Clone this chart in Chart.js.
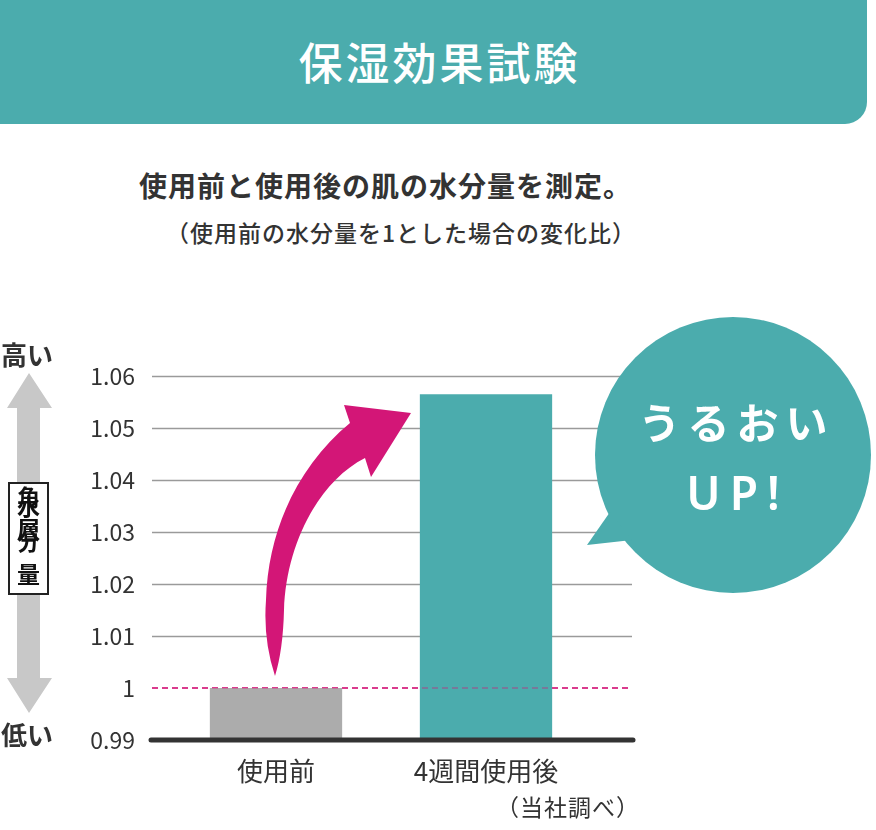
<!DOCTYPE html>
<html>
<head>
<meta charset="utf-8">
<script src="https://cdn.jsdelivr.net/npm/chart.js@4.4.1/dist/chart.umd.min.js"></script>
<style>
  html, body { margin: 0; padding: 0; background: #fff; }
  body { width: 876px; height: 830px; position: relative; overflow: hidden;
         font-family: "Noto Sans CJK JP", "Noto Sans", sans-serif; color: #333; }
  .abs { position: absolute; white-space: nowrap; line-height: 1; }
  #header { position: absolute; left: 0; top: 0; width: 867px; height: 124px;
            background: #4bacad; border-bottom-right-radius: 22px; }
  #title { left: 0; width: 876px; top: 39px; text-align: center; color: #fff;
           font-size: 44px; font-weight: 500; letter-spacing: 3px; padding-left: 3px; box-sizing: border-box; }
  #sub1 { left: 139px; top: 171px; font-size: 28px; font-weight: 700; letter-spacing: 1px; color: #333; }
  #sub2 { left: 166px; top: 221px; font-size: 23px; font-weight: 500; letter-spacing: 1px; color: #333; }
  #src { left: 496px; top: 795px; font-size: 23px; font-weight: 400; letter-spacing: 1px; color: #333; }
  .side { font-size: 26px; font-weight: 700; color: #333; left: 1px; }
  #lblbox { position: absolute; left: 8px; top: 482px; width: 37px; height: 109px;
            border: 2px solid #222; background: #fff; }
  .vch { position: absolute; left: 0; width: 37px; text-align: center; font-size: 23px;
         font-weight: 700; color: #111; line-height: 1; }
  #canvas { position: absolute; left: 0; top: 0; }
  #overlay { position: absolute; left: 0; top: 0; }
  .bub { color: #fff; font-weight: 600; text-align: center; left: 593px; width: 280px; }
</style>
</head>
<body>
<div id="header"></div>
<div id="title" class="abs">保湿効果試験</div>
<div id="sub1" class="abs">使用前と使用後の肌の水分量を測定。</div>
<div id="sub2" class="abs">（使用前の水分量を1とした場合の変化比）</div>

<canvas id="canvas" width="876" height="830"></canvas>

<svg id="overlay" width="876" height="830" viewBox="0 0 876 830">
  <!-- gray double arrow -->
  <polygon points="29,373 52,408 40,408 40,678 52,678 29,713 7,678 17,678 17,408 7,408" fill="#c8c8c8"/>
  <!-- magenta curved arrow -->
  <path d="M 275 676 Q 263 640 266 600 C 268 530 298 466 350 423 L 344 405 L 411 413 L 371 477 L 365 458 C 318 482 286 545 284 610 Q 283 650 275 676 Z" fill="#d31677"/>
  <!-- speech bubble -->
  <circle cx="733" cy="455" r="138" fill="#4bacad"/>
  <polygon points="587,545 610,512 632,540" fill="#4bacad"/>
</svg>

<div id="lblbox">
  <div class="vch" style="top:1px">角</div>
  <div class="vch" style="top:10px">水</div>
  <div class="vch" style="top:33px">層</div>
  <div class="vch" style="top:45px">分</div>
  <div class="vch" style="top:78px">量</div>
</div>
<div class="abs side" style="top:341px">高い</div>
<div class="abs side" style="top:721px">低い</div>

<div class="abs bub" style="top:400px; font-size:42px; letter-spacing:7px; padding-left:7px; box-sizing:border-box;">うるおい</div>
<div class="abs bub" style="top:469px; font-size:46px; letter-spacing:9px; padding-left:9px; box-sizing:border-box; font-family:'Noto Sans','Noto Sans CJK JP',sans-serif;">UP!</div>

<div id="src" class="abs">（当社調べ）</div>

<script>
// ---- data ----
const categories = ['使用前', '4週間使用後'];
const ratioValues = [1.00, 1.0565];
const barColors = ['#acacac', '#4bacad'];
const yMin = 0.99;
const yMax = 1.06;
const yStep = 0.01;
const baselineValue = 1.00;

const decorPlugin = {
  id: 'decor',
  beforeDatasetsDraw(chart) {
    const { ctx, chartArea, scales } = chart;
    const y = scales.y;
    const x0 = chartArea.left - 19, x1 = chartArea.right + 41;
    ctx.save();
    ctx.strokeStyle = '#9a9a9a';
    ctx.lineWidth = 1.6;
    y.ticks.forEach(t => {
      if (t.value > baselineValue + 1e-9) {
        const py = Math.round(y.getPixelForValue(t.value)) + 0.5;
        ctx.beginPath(); ctx.moveTo(x0, py); ctx.lineTo(x1, py); ctx.stroke();
      }
    });
    const by = y.getPixelForValue(baselineValue);
    ctx.strokeStyle = '#d31677';
    ctx.lineWidth = 1.6;
    ctx.setLineDash([6, 4]);
    ctx.beginPath(); ctx.moveTo(x0, by); ctx.lineTo(x1, by); ctx.stroke();
    ctx.restore();
  },
  afterDatasetsDraw(chart) {
    const { ctx, chartArea, scales } = chart;
    const y = scales.y;
    const x0 = chartArea.left - 19, x1 = chartArea.right + 41;
    ctx.save();
    const by = y.getPixelForValue(baselineValue);
    ctx.strokeStyle = 'rgba(211,22,119,0.45)';
    ctx.lineWidth = 1.6;
    ctx.setLineDash([6, 4]);
    ctx.beginPath(); ctx.moveTo(x0, by); ctx.lineTo(x1, by); ctx.stroke();
    ctx.setLineDash([]);
    const ay = y.getPixelForValue(yMin);
    ctx.strokeStyle = '#333333';
    ctx.lineWidth = 5;
    ctx.lineCap = 'round';
    ctx.beginPath(); ctx.moveTo(x0 - 1, ay); ctx.lineTo(x1 + 1, ay); ctx.stroke();
    ctx.restore();
  }
};

new Chart(document.getElementById('canvas'), {
  type: 'bar',
  data: {
    labels: categories,
    datasets: [{
      data: ratioValues,
      backgroundColor: barColors,
      borderWidth: 0,
      barPercentage: 0.63,
      categoryPercentage: 1.0
    }]
  },
  options: {
    responsive: false,
    animation: false,
    devicePixelRatio: 1,
    layout: { padding: { top: 376, right: 285, left: 0, bottom: 0 } },
    plugins: { legend: { display: false }, tooltip: { enabled: false } },
    scales: {
      x: {
        grid: { display: false, drawTicks: false },
        border: { display: false },
        ticks: { color: '#333', font: { family: '"Noto Sans CJK JP"', size: 26, weight: 400 }, padding: 16 },
        afterFit(s) { s.height = 90; }
      },
      y: {
        min: yMin, max: yMax,
        grid: { display: false, drawTicks: false },
        border: { display: false },
        ticks: {
          stepSize: yStep,
          color: '#333',
          padding: 36,
          font: { family: '"Noto Sans CJK JP"', size: 23, weight: 400 },
          callback: v => String(Number(v.toFixed(2)))
        },
        afterFit(s) { s.width = 171; }
      }
    }
  },
  plugins: [decorPlugin]
});
</script>
</body>
</html>
